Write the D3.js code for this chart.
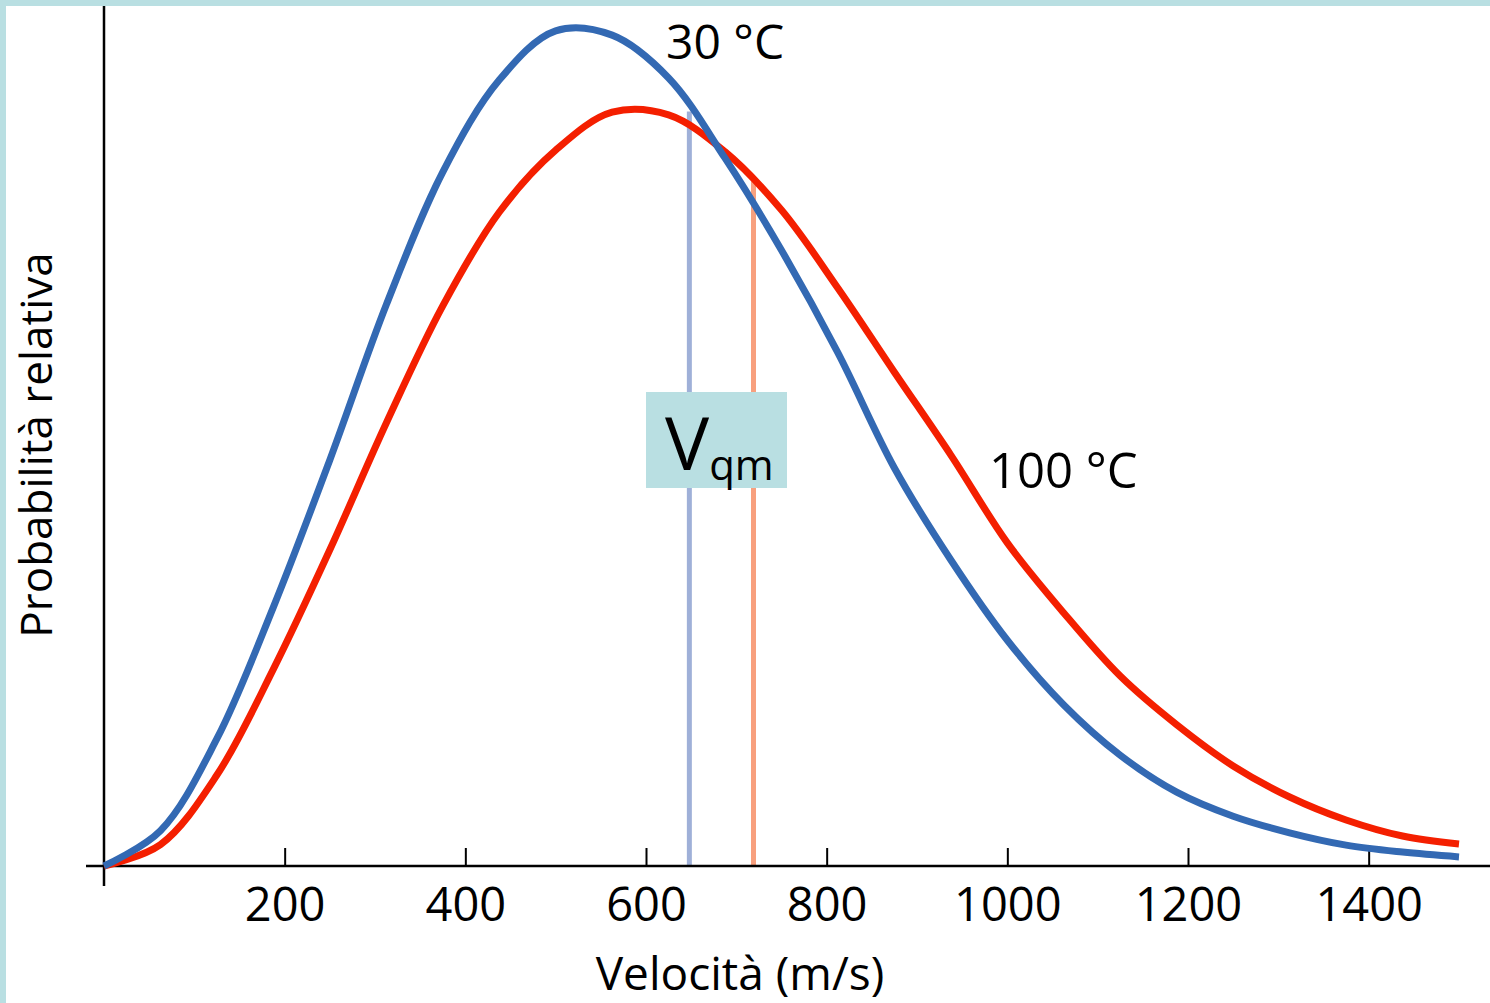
<!DOCTYPE html>
<html>
<head>
<meta charset="utf-8">
<script src="https://cdn.jsdelivr.net/npm/d3@7"></script>
<style>
  body { margin: 0; background: #fff; }
  text { font-family: "Open Sans", "Noto Sans", sans-serif; fill: #000; }
</style>
</head>
<body>
<svg id="chart" width="1490" height="1003"></svg>
<script>
// speeds (m/s) sampled along the curves
var speeds = [0, 62.5, 125, 187.5, 250, 312.5, 375, 437.5, 500, 562.5, 625, 687.5, 750,
              812.5, 875, 937.5, 1000, 1062.5, 1125, 1187.5, 1250, 1312.5, 1375, 1437.5, 1500];
// relative probability, 30 °C
var prob30 = [0, 0.066, 0.238, 0.484, 0.759, 1.049, 1.297, 1.469, 1.561, 1.553, 1.473, 1.323, 1.151,
              0.959, 0.744, 0.572, 0.422, 0.301, 0.207, 0.138, 0.093, 0.062, 0.039, 0.026, 0.017];
// relative probability, 100 °C
var prob100 = [0, 0.040, 0.170, 0.368, 0.591, 0.828, 1.047, 1.222, 1.338, 1.409, 1.404, 1.335, 1.226,
               1.080, 0.923, 0.768, 0.604, 0.473, 0.355, 0.264, 0.187, 0.129, 0.086, 0.056, 0.041];
// root mean square speeds
var vqm30 = 648, vqm100 = 719;
var xTicks = [200, 400, 600, 800, 1000, 1200, 1400];

var svg = d3.select("#chart");

// light frame on top / left
svg.append("rect").attr("x", 0).attr("y", 0).attr("width", 1490).attr("height", 6).attr("fill", "#b9dfe2");
svg.append("rect").attr("x", 0).attr("y", 0).attr("width", 6).attr("height", 1003).attr("fill", "#b9dfe2");

var x = d3.scaleLinear().domain([0, 1500]).range([104, 1459]);
var y = d3.scaleLinear().domain([0, 1.6]).range([866, 10]);

function valueAt(arr, v) {
  var i = d3.bisectRight(speeds, v) - 1;
  var t = (v - speeds[i]) / (speeds[i + 1] - speeds[i]);
  return arr[i] + t * (arr[i + 1] - arr[i]);
}

// vqm markers
svg.append("line")
    .attr("x1", x(vqm30)).attr("x2", x(vqm30))
    .attr("y1", y(valueAt(prob30, vqm30)) + 4).attr("y2", y(0))
    .attr("stroke", "#9fb0d8").attr("stroke-width", 5);
svg.append("line")
    .attr("x1", x(vqm100)).attr("x2", x(vqm100))
    .attr("y1", y(valueAt(prob100, vqm100))).attr("y2", y(0))
    .attr("stroke", "#f8a07e").attr("stroke-width", 5);

// axes
var xAxis = d3.axisBottom(x).tickValues(xTicks).tickSize(-18).tickPadding(0).tickFormat(d3.format("d"));
var gx = svg.append("g").attr("transform", "translate(0," + y(0) + ")").call(xAxis);
gx.select(".domain").remove();
gx.selectAll(".tick line").attr("stroke", "#000").attr("stroke-width", 2);
gx.selectAll(".tick text").attr("y", 55).attr("dy", 0)
    .style("font-size", "47px").style("font-family", "'Open Sans', sans-serif");

svg.append("line").attr("x1", 86).attr("x2", 1490).attr("y1", y(0)).attr("y2", y(0))
    .attr("stroke", "#000").attr("stroke-width", 2.5);
svg.append("line").attr("x1", x(0)).attr("x2", x(0)).attr("y1", 6).attr("y2", 886)
    .attr("stroke", "#000").attr("stroke-width", 2.5);

// curves
var line = d3.line()
    .x(function(d, i){ return x(speeds[i]); })
    .y(function(d){ return y(d); })
    .curve(d3.curveCatmullRom.alpha(0.5));

svg.append("path").datum(prob100).attr("d", line)
    .attr("fill", "none").attr("stroke", "#f41f00").attr("stroke-width", 7).attr("stroke-linejoin", "round");
svg.append("path").datum(prob30).attr("d", line)
    .attr("fill", "none").attr("stroke", "#3369b3").attr("stroke-width", 7).attr("stroke-linejoin", "round");

// Vqm box
svg.append("rect").attr("x", 646).attr("y", 392).attr("width", 141).attr("height", 96).attr("fill", "#b9dfe2");
var vt = svg.append("text").attr("x", 665).attr("y", 470).style("font-size", "74px");
vt.append("tspan").text("V");
vt.append("tspan").attr("dy", 10).style("font-size", "42px").text("qm");

// labels
svg.append("text").attr("x", 666).attr("y", 59).style("font-size", "48px").text("30 °C");
svg.append("text").attr("x", 989).attr("y", 488).style("font-size", "49px").text("100 °C");

svg.append("text").attr("x", 740).attr("y", 990).attr("text-anchor", "middle")
    .style("font-size", "46px").text("Velocità (m/s)");
svg.append("text").attr("transform", "translate(52,445) rotate(-90)").attr("text-anchor", "middle")
    .style("font-size", "44px").text("Probabilità relativa");
</script>
</body>
</html>
